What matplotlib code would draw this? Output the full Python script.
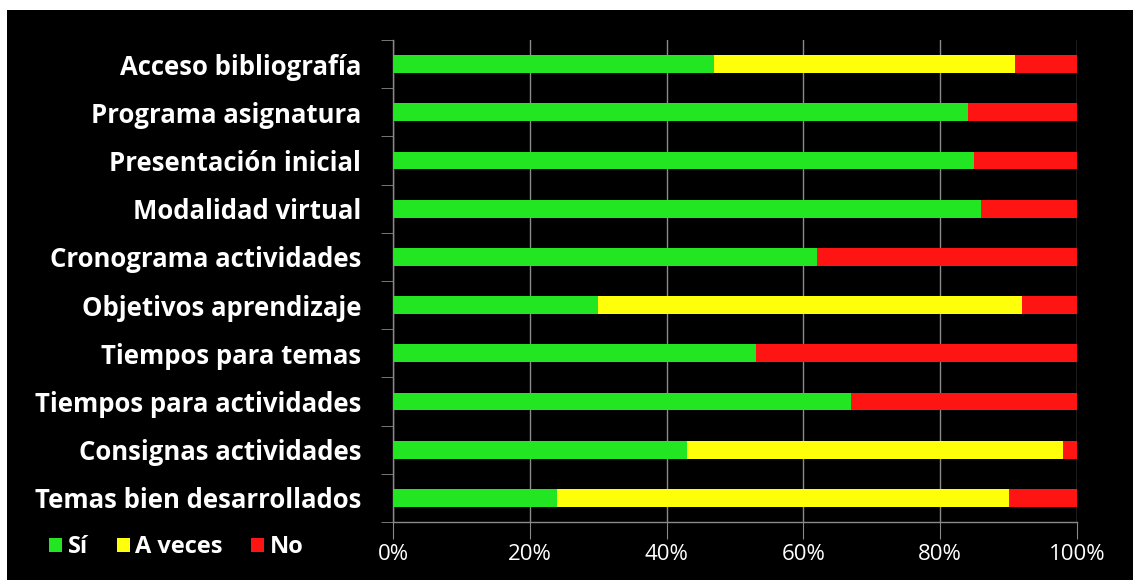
import matplotlib.pyplot as plt
from matplotlib.patches import Rectangle
import numpy as np

# data (percent per category)
categories = ["Acceso bibliografía", "Programa asignatura", "Presentación inicial",
              "Modalidad virtual", "Cronograma actividades", "Objetivos aprendizaje",
              "Tiempos para temas", "Tiempos para actividades", "Consignas actividades",
              "Temas bien desarrollados"]
si = [47, 84, 85, 86, 62, 30, 53, 67, 43, 24]
a_veces = [44, 0, 0, 0, 0, 62, 0, 0, 55, 66]
no = [9, 16, 15, 14, 38, 8, 47, 33, 2, 10]
series_names = ["Sí", "A veces", "No"]
x_ticks = [0, 20, 40, 60, 80, 100]

colors = ["#22E622", "#FFFF0A", "#FF1414"]
grid_col = "#8a8a8a"

plt.rcParams['font.family'] = ['Open Sans', 'DejaVu Sans']

fig = plt.figure(figsize=(11.33, 5.80), dpi=100, facecolor="white")
# black panel with thin white strip at top and left
fig.patches.append(Rectangle((7/1133, 0), 1, 570/580, transform=fig.transFigure,
                             facecolor="black", edgecolor="none", zorder=-10))

ax = fig.add_axes([393/1133, 1-522/580, 684/1133, 482/580])
ax.set_facecolor("black")

y = np.arange(len(categories))
h = 0.37
left = np.zeros(len(categories))
for vals, col, name in zip([si, a_veces, no], colors, series_names):
    vals = np.array(vals, dtype=float)
    ax.barh(y, vals, left=left, height=h, color=col, edgecolor="none", label=name, zorder=3)
    left += vals

ax.set_xlim(0, 100)
ax.set_ylim(len(categories) - 0.5, -0.5)

ax.set_xticks(x_ticks)
ax.set_xticklabels(["%d%%" % v for v in x_ticks], color="white", fontsize=16)
ax.tick_params(axis="x", length=12, color=grid_col, pad=4, direction="out")
ax.xaxis.grid(True, color=grid_col, linewidth=1, zorder=0)

ax.set_yticks(y)
ax.set_yticklabels(categories, color="white", fontsize=18.5, fontweight="bold")
ax.set_yticks(np.arange(-0.5, len(categories), 1), minor=True)
ax.tick_params(axis="y", which="major", length=0, pad=23)
ax.tick_params(axis="y", which="minor", length=9, color=grid_col)

for s in ["top", "right"]:
    ax.spines[s].set_visible(False)
for s in ["left", "bottom"]:
    ax.spines[s].set_color(grid_col)
    ax.spines[s].set_linewidth(1)

leg = fig.legend(loc="center left", bbox_to_anchor=(28/1133, 1-547/580), ncol=3,
                 frameon=False, handlelength=0.55, handleheight=0.55, handletextpad=0.25,
                 columnspacing=1.2, prop={"weight": "bold", "size": 17})
for t in leg.get_texts():
    t.set_color("white")

fig.savefig("out.png", dpi=100, facecolor=fig.get_facecolor())
